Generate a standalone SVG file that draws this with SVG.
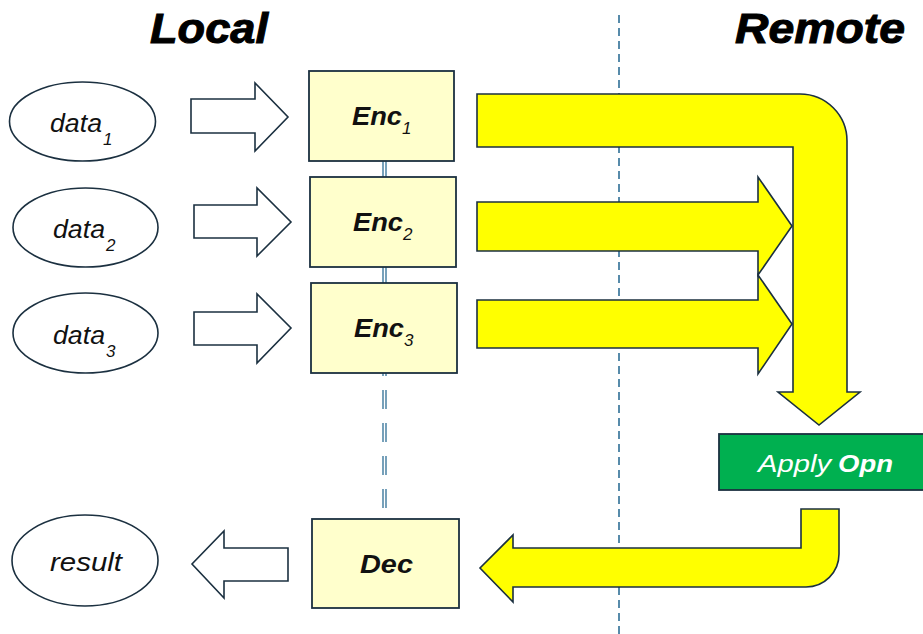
<svg xmlns="http://www.w3.org/2000/svg" width="923" height="634" viewBox="0 0 923 634">
  <style>
    .txt { font-family: "Liberation Sans", Arial, sans-serif; }
    .title { font-size: 42px; font-weight: bold; font-style: italic; fill: #000; stroke: #000; stroke-width: 1; }
    .oval { fill: #fff; stroke: #1b3040; stroke-width: 1.6; }
    .box { fill: #ffffcc; stroke: #1b3040; stroke-width: 1.8; }
    .hollow { fill: #fff; stroke: #1b3040; stroke-width: 1.6; stroke-linejoin: miter; }
    .flow { fill: #ffff00; stroke: #1b3040; stroke-width: 1.6; stroke-linejoin: miter; }
    .label { font-size: 25px; font-style: italic; fill: #111; }
    .sub { font-size: 17px; font-style: italic; fill: #111; }
    .bold { font-weight: bold; }
    .rail { stroke: #2e6f96; stroke-width: 1.3; fill: none; }
    .divider { stroke: #2e6f96; stroke-width: 1.6; stroke-dasharray: 8 5; fill: none; }
  </style>

  <rect width="923" height="634" fill="#fff"/>

  <!-- local / remote boundary -->
  <line class="divider" x1="619" y1="15" x2="619" y2="634"/>

  <!-- side titles -->
  <text class="txt title" x="150" y="43" textLength="118" lengthAdjust="spacingAndGlyphs">Local</text>
  <text class="txt title" x="735" y="43" textLength="170" lengthAdjust="spacingAndGlyphs">Remote</text>

  <g id="connectors">
    <!-- double rail joining the encoders and the decoder -->
    <g class="rail">
      <line x1="383" y1="161" x2="383" y2="177"/>
      <line x1="386" y1="161" x2="386" y2="177"/>
      <line x1="383" y1="267" x2="383" y2="283"/>
      <line x1="386" y1="267" x2="386" y2="283"/>
      <line x1="383" y1="357" x2="383" y2="519" stroke-dasharray="19 14"/>
      <line x1="386" y1="357" x2="386" y2="519" stroke-dasharray="19 14"/>
    </g>

    <!-- inputs into the encoders -->
    <path class="hollow" d="M191,99 H255 V83 L288,117 L255,151 V133 H191 Z"/>
    <path class="hollow" d="M194,205 H257 V188 L291,222 L257,256 V238 H194 Z"/>
    <path class="hollow" d="M194,312 H257 V294 L291,328 L257,363 V345 H194 Z"/>

    <!-- decoder output -->
    <path class="hollow" d="M288,548 H224 V531 L192,564 L224,598 V581 H288 Z"/>

    <!-- encrypted data sent to the remote side -->
    <path class="flow" d="M477,94 H800 A47,47 0 0 1 847,141 V392 H860 L819,425 L778,392 H793 V147 H477 Z"/>
    <path class="flow" d="M477,202 H758 V177 L792,226 L758,275 V251 H477 Z"/>
    <path class="flow" d="M477,300 H758 V275 L792,324 L758,374 V348 H477 Z"/>

    <!-- result returned to the decoder -->
    <path class="flow" d="M839,509 V554 A33,33 0 0 1 806,587 H513 V602 L480,568 L513,535 V548 H801 V509 Z"/>
  </g>

  <g id="data1">
    <ellipse class="oval" cx="82.5" cy="121.5" rx="73" ry="39.5"/>
    <text class="txt label" x="50" y="132" textLength="52" lengthAdjust="spacingAndGlyphs">data</text>
    <text class="txt sub" x="103" y="145">1</text>
  </g>
  <g id="data2">
    <ellipse class="oval" cx="85.5" cy="227.5" rx="72.5" ry="39.5"/>
    <text class="txt label" x="53" y="238" textLength="52" lengthAdjust="spacingAndGlyphs">data</text>
    <text class="txt sub" x="106" y="251">2</text>
  </g>
  <g id="data3">
    <ellipse class="oval" cx="85.5" cy="333" rx="72.5" ry="40"/>
    <text class="txt label" x="53" y="343.5" textLength="52" lengthAdjust="spacingAndGlyphs">data</text>
    <text class="txt sub" x="106" y="356.5">3</text>
  </g>
  <g id="result">
    <ellipse class="oval" cx="85" cy="560.5" rx="73" ry="45.5"/>
    <text class="txt label" x="50" y="571" textLength="72" lengthAdjust="spacingAndGlyphs">result</text>
  </g>

  <g id="enc1">
    <rect class="box" x="309" y="71" width="145" height="90"/>
    <text class="txt label bold" x="352" y="125" textLength="50" lengthAdjust="spacingAndGlyphs">Enc</text>
    <text class="txt sub" x="402" y="134" font-size="16">1</text>
  </g>
  <g id="enc2">
    <rect class="box" x="310" y="177" width="146" height="90"/>
    <text class="txt label bold" x="353" y="231" textLength="50" lengthAdjust="spacingAndGlyphs">Enc</text>
    <text class="txt sub" x="403" y="240" font-size="16">2</text>
  </g>
  <g id="enc3">
    <rect class="box" x="311" y="283" width="146" height="90"/>
    <text class="txt label bold" x="354" y="337" textLength="50" lengthAdjust="spacingAndGlyphs">Enc</text>
    <text class="txt sub" x="404" y="346" font-size="16">3</text>
  </g>
  <g id="dec">
    <rect class="box" x="312" y="519" width="147" height="89"/>
    <text class="txt label bold" x="360" y="573" textLength="53" lengthAdjust="spacingAndGlyphs">Dec</text>
  </g>

  <g id="apply-opn">
    <rect x="719" y="434" width="206" height="56" fill="#00b050" stroke="#1b3040" stroke-width="1.8"/>
    <text class="txt" x="758" y="472" font-size="24" font-style="italic" fill="#fff" textLength="73" lengthAdjust="spacingAndGlyphs">Apply</text>
    <text class="txt" x="838" y="472" font-size="24" font-style="italic" font-weight="bold" fill="#fff" textLength="55" lengthAdjust="spacingAndGlyphs">Opn</text>
  </g>
</svg>
